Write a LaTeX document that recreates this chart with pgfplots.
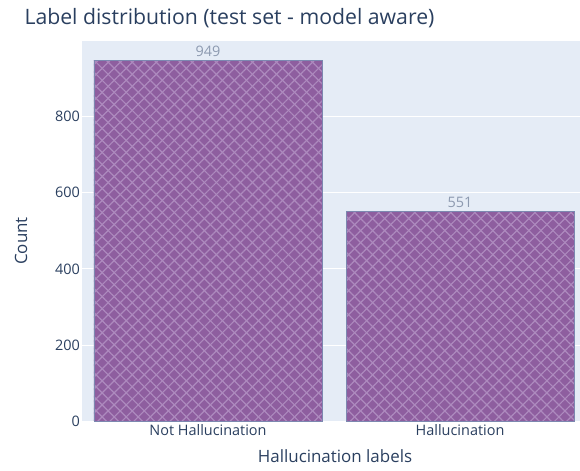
\documentclass[border=0pt]{standalone}
\usepackage{pgfplots}
\pgfplotsset{compat=1.18}
\usepackage{fontspec}
\setmainfont{Open Sans}
\usetikzlibrary{patterns.meta}
\definecolor{bg}{HTML}{E5ECF6}
\definecolor{txt}{HTML}{2A3F5F}
\definecolor{barc}{HTML}{8E5E9F}
\definecolor{hatch}{HTML}{AD8ABE}
\definecolor{edge}{HTML}{7C88B0}
\definecolor{lbl}{HTML}{8D9AB0}
\begin{document}
\begin{tikzpicture}[x=1bp,y=1bp]
\useasboundingbox (0,0) rectangle (580,471);
\begin{axis}[
  at={(82bp,50bp)}, anchor=south west,
  scale only axis, width=498bp, height=380bp,
  xmin=-0.5, xmax=1.476, ymin=0, ymax=999,
  axis background/.style={fill=bg},
  axis line style={draw=none},
  xtick={0,1}, xticklabels={Not Hallucination, Hallucination},
  ytick={0,200,400,600,800},
  ymajorgrids, grid style={white, line width=0.8bp},
  major tick length=0pt,
  tick label style={font=\fontsize{14.5}{17}\selectfont, text=txt},
  xticklabel style={yshift=0bp},
  yticklabel style={xshift=1.5bp},
  /pgf/number format/assume math mode=true,
  clip=false,
  nodes near coords,
  every node near coord/.append style={font=\fontsize{14.5}{17}\selectfont, text=lbl, yshift=0bp},
]
\addplot[ybar, bar width=0.905, bar shift=0, fill=barc, draw=edge, line width=0.8bp,
  postaction={pattern={Lines[angle=45,distance=8.5bp,line width=1.2bp]}, pattern color=hatch},
  postaction={pattern={Lines[angle=-45,distance=8.5bp,line width=1.2bp]}, pattern color=hatch}]
  coordinates {(0,949) (1,551)};
\end{axis}
\node[anchor=west, text=txt, font=\fontsize{21.3}{25}\selectfont] at (21,453) {Label distribution (test set - model aware)};
\node[rotate=90, text=txt, font=\fontsize{17}{20}\selectfont] at (21,230) {Count};
\node[text=txt, font=\fontsize{17}{20}\selectfont] at (335,15) {Hallucination labels};
\end{tikzpicture}
\end{document}
